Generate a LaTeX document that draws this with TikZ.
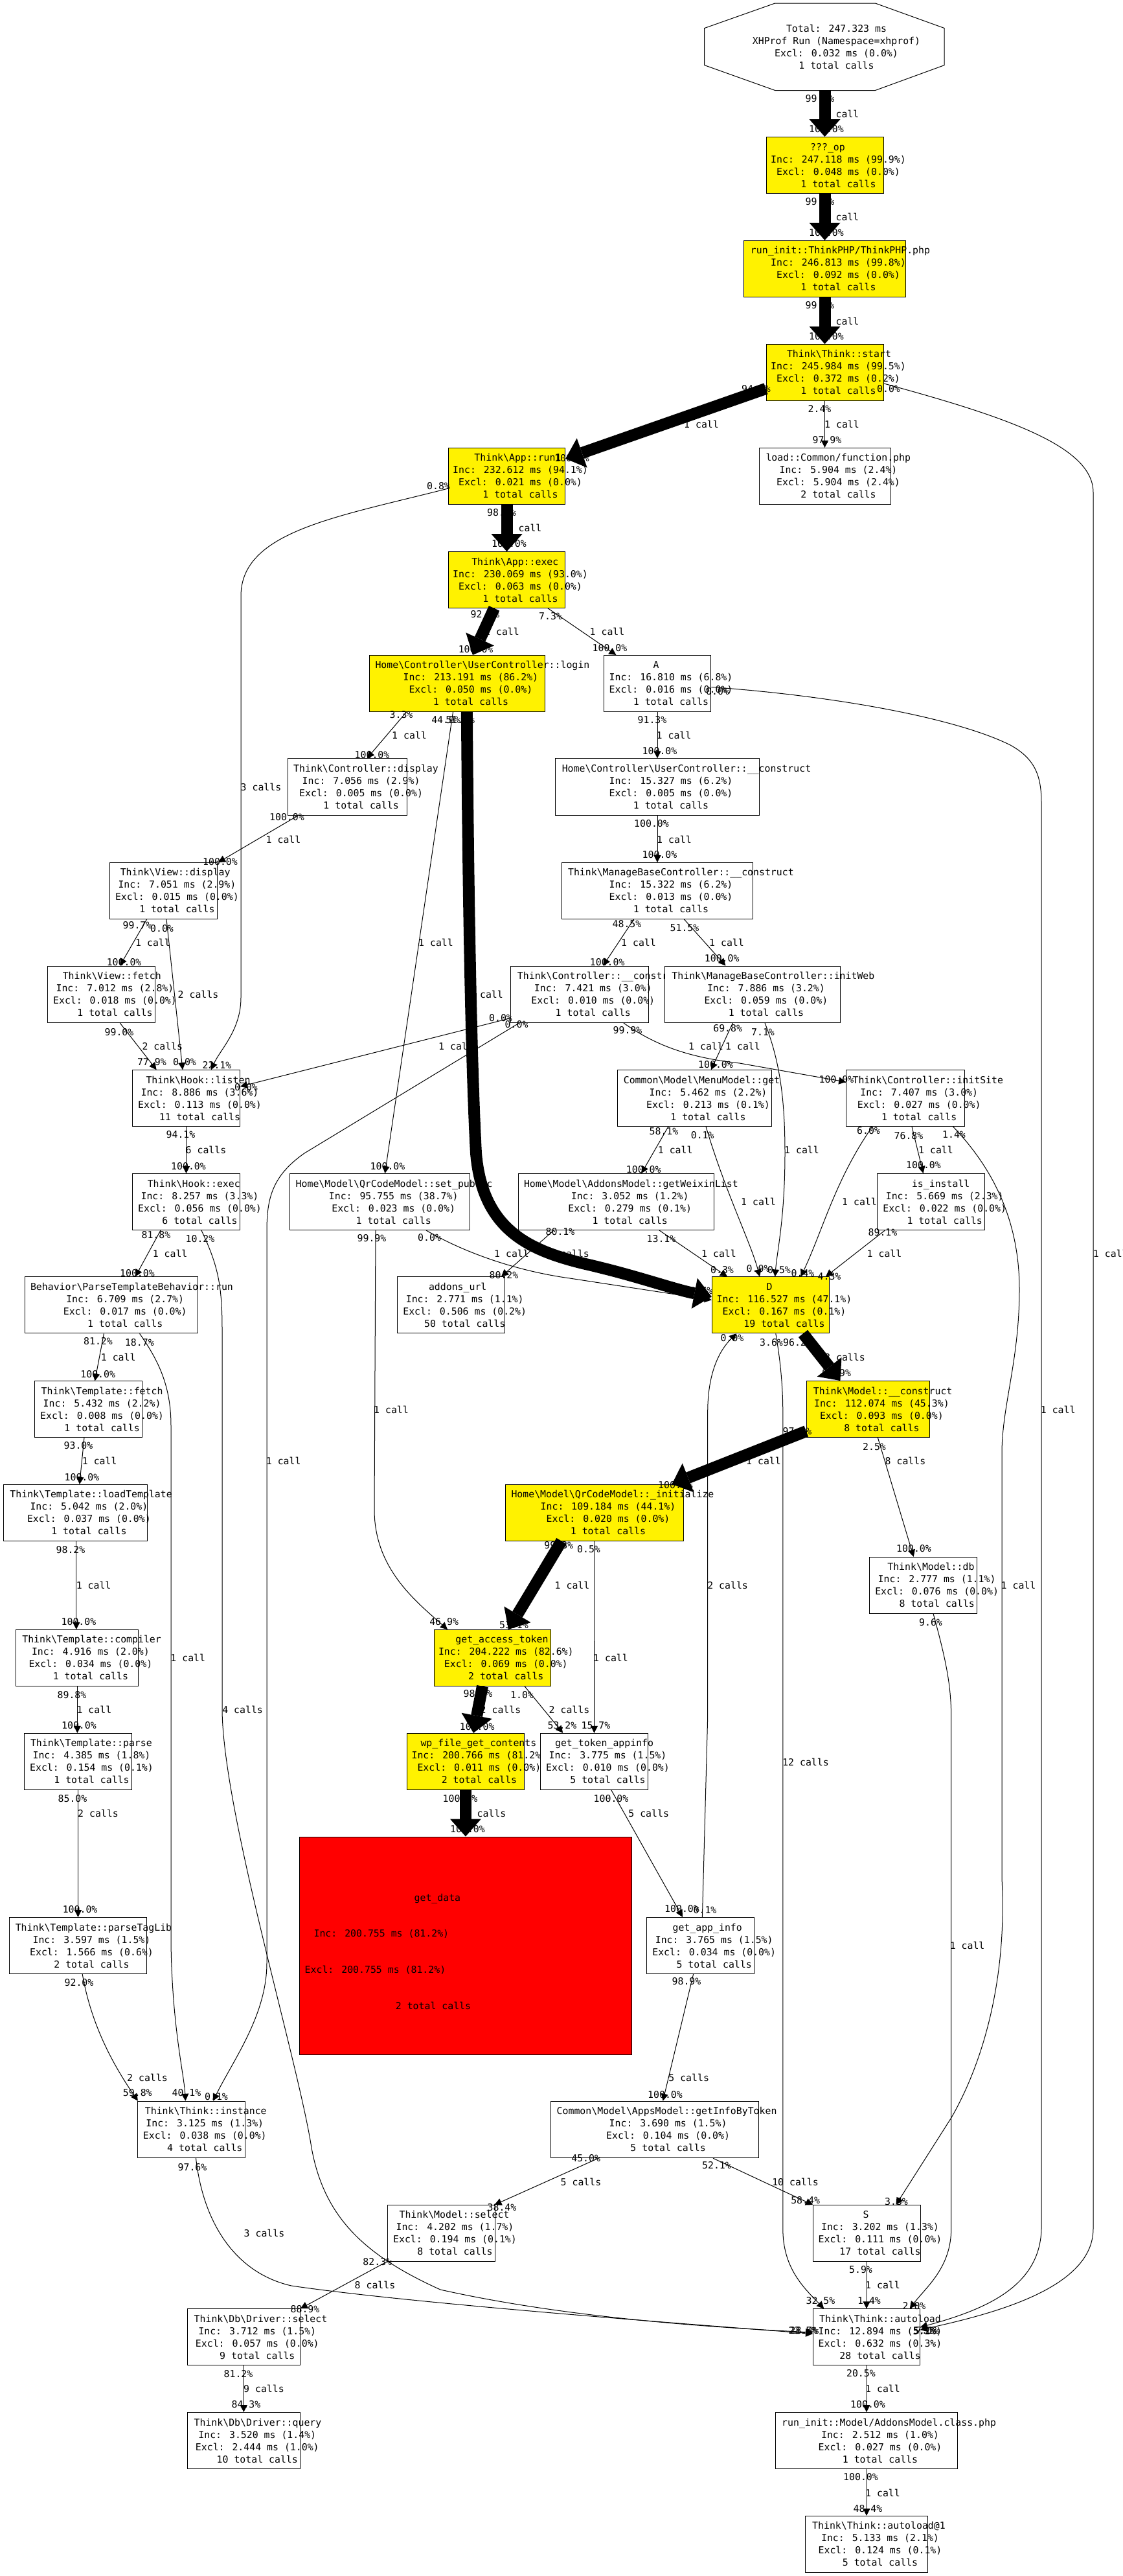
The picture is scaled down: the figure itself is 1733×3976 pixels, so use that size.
\documentclass[tikz,border=0pt]{standalone}
\usepackage{fontspec}
\newfontfamily\monof{DejaVu Sans Mono}
\usetikzlibrary{arrows.meta}
\newcommand\mymono{\monof\fontsize{14.85}{19}\selectfont}
\def\bsl{\textbackslash}
\newcommand\mkfn[9]{\node[box, fill=#6, minimum width=#4pt, minimum height=#5pt,
  label={[ttl,xshift=#7pt]center:{#8}}, label={[bdy]center:{#9}}] (#1) at (#2,#3) {};}
\newcommand\elb[4]{\node[elab] (#1) at (#2,#3) {#4};}
\begin{document}
\begin{tikzpicture}[x=1pt,y=-1pt,
  box/.style={draw, line width=1pt, inner sep=0pt},
  ttl/.style={font=\mymono, inner sep=0pt, text height=11pt, text depth=0pt, yshift=28.5pt},
  bdy/.style={font=\mymono, inner sep=0pt, align=center, xshift=21pt, yshift=-9.5pt},
  elab/.style={font=\mymono, inner sep=0pt, text height=11pt, text depth=0pt},
  ar/.style={line width=1pt, -{Triangle[width=11pt,length=11pt]}},
  tk/.style={line width=18pt, -{Triangle[width=48pt,length=27pt,line width=0pt]}}]
\fill[white] (0,0) rectangle (1733,3976);
\useasboundingbox (0,0) rectangle (1733,3976);

% root octagon
\draw[line width=1pt] (1196.7,5) -- (1351.5,5) -- (1458.2,43.5) -- (1458.2,100.6) -- (1351.5,139.5) -- (1196.7,139.5) -- (1087.7,100.6) -- (1087.7,43.5) -- cycle;
\node[draw=none, minimum width=370.5pt, minimum height=134.4pt, inner sep=0pt,
  label={[font=\mymono, inner sep=0pt, align=center, xshift=18pt]center:{Total: 247.323 ms\\XHProf Run (Namespace\symbol{61}xhprof)\\Excl: 0.032 ms (0.0\%)\\1 total calls}}] (root) at (1273.5,72.3) {};

% function nodes
\mkfn{op}{1273.5}{255}{181}{87}{yellow}{4.5}{???\_op}{Inc: 247.118 ms (99.9\%)\\Excl: 0.048 ms (0.0\%)\\1 total calls}
\mkfn{runinit}{1273.5}{414.8}{249.5}{87}{yellow}{24}{run\_init::ThinkPHP/ThinkPHP.php}{Inc: 246.813 ms (99.8\%)\\Excl: 0.092 ms (0.0\%)\\1 total calls}
\mkfn{start}{1273.5}{574.9}{181}{87}{yellow}{22}{Think\bsl Think::start}{Inc: 245.984 ms (99.5\%)\\Excl: 0.372 ms (0.2\%)\\1 total calls}
\mkfn{run1}{782.5}{734.7}{180.3}{86.7}{yellow}{17}{Think\bsl App::run1}{Inc: 232.612 ms (94.1\%)\\Excl: 0.021 ms (0.0\%)\\1 total calls}
\mkfn{loadc}{1273.5}{734.7}{203}{86.7}{white}{20.8}{load::Common/function.php}{Inc: 5.904 ms (2.4\%)\\Excl: 5.904 ms (2.4\%)\\2 total calls}
\mkfn{exec}{782.5}{895}{180.3}{86.7}{yellow}{12.8}{Think\bsl App::exec}{Inc: 230.069 ms (93.0\%)\\Excl: 0.063 ms (0.0\%)\\1 total calls}
\mkfn{login}{705.9}{1054.8}{271.5}{86.7}{yellow}{39}{Home\bsl Controller\bsl UserController::login}{Inc: 213.191 ms (86.2\%)\\Excl: 0.050 ms (0.0\%)\\1 total calls}
\mkfn{A}{1015}{1054.8}{165.8}{86.7}{white}{-2}{A}{Inc: 16.810 ms (6.8\%)\\Excl: 0.016 ms (0.0\%)\\1 total calls}
\mkfn{cdisp}{536.6}{1214.6}{184}{87.5}{white}{28.4}{Think\bsl Controller::display}{Inc: 7.056 ms (2.9\%)\\Excl: 0.005 ms (0.0\%)\\1 total calls}
\mkfn{ucc}{1015}{1214.6}{315}{87.5}{white}{45}{Home\bsl Controller\bsl UserController::\_\_construct}{Inc: 15.327 ms (6.2\%)\\Excl: 0.005 ms (0.0\%)\\1 total calls}
\mkfn{vdisp}{252.4}{1374.9}{166.4}{86.7}{white}{18.3}{Think\bsl View::display}{Inc: 7.051 ms (2.9\%)\\Excl: 0.015 ms (0.0\%)\\1 total calls}
\mkfn{mbc}{1015}{1374.9}{295.8}{86.7}{white}{36.4}{Think\bsl ManageBaseController::\_\_construct}{Inc: 15.322 ms (6.2\%)\\Excl: 0.013 ms (0.0\%)\\1 total calls}
\mkfn{vfetch}{156.5}{1534.7}{166}{87.4}{white}{16.3}{Think\bsl View::fetch}{Inc: 7.012 ms (2.8\%)\\Excl: 0.018 ms (0.0\%)\\1 total calls}
\mkfn{ccons}{894.8}{1534.7}{213.5}{87.4}{white}{33.8}{Think\bsl Controller::\_\_construct}{Inc: 7.421 ms (3.0\%)\\Excl: 0.010 ms (0.0\%)\\1 total calls}
\mkfn{initweb}{1161.9}{1534.7}{271}{87.4}{white}{32}{Think\bsl ManageBaseController::initWeb}{Inc: 7.886 ms (3.2\%)\\Excl: 0.059 ms (0.0\%)\\1 total calls}
\mkfn{listen}{287.5}{1695}{166}{86.7}{white}{18.5}{Think\bsl Hook::listen}{Inc: 8.886 ms (3.6\%)\\Excl: 0.113 ms (0.0\%)\\11 total calls}
\mkfn{menu}{1072.5}{1695}{238.3}{86.7}{white}{11}{Common\bsl Model\bsl MenuModel::get}{Inc: 5.462 ms (2.2\%)\\Excl: 0.213 ms (0.1\%)\\1 total calls}
\mkfn{initsite}{1398.2}{1695}{183}{86.7}{white}{34.6}{Think\bsl Controller::initSite}{Inc: 7.407 ms (3.0\%)\\Excl: 0.027 ms (0.0\%)\\1 total calls}
\mkfn{hexec}{287.5}{1855}{166}{87}{white}{11.8}{Think\bsl Hook::exec}{Inc: 8.257 ms (3.3\%)\\Excl: 0.056 ms (0.0\%)\\6 total calls}
\mkfn{setpub}{586.7}{1855}{277.5}{87}{white}{22}{Home\bsl Model\bsl QrCodeModel::set\_public}{Inc: 95.755 ms (38.7\%)\\Excl: 0.023 ms (0.0\%)\\1 total calls}
\mkfn{getwx}{951.7}{1855}{302}{87}{white}{22.7}{Home\bsl Model\bsl AddonsModel::getWeixinList}{Inc: 3.052 ms (1.2\%)\\Excl: 0.279 ms (0.1\%)\\1 total calls}
\mkfn{isinst}{1437.7}{1855}{166}{87}{white}{15}{is\_install}{Inc: 5.669 ms (2.3\%)\\Excl: 0.022 ms (0.0\%)\\1 total calls}
\mkfn{ptb}{172.2}{2014.4}{267}{87}{white}{31.3}{Behavior\bsl ParseTemplateBehavior::run}{Inc: 6.709 ms (2.7\%)\\Excl: 0.017 ms (0.0\%)\\1 total calls}
\mkfn{addons}{696.7}{2014.4}{166}{87}{white}{10}{addons\_url}{Inc: 2.771 ms (1.1\%)\\Excl: 0.506 ms (0.2\%)\\50 total calls}
\mkfn{D}{1190}{2014.4}{181.4}{87}{yellow}{-2}{D}{Inc: 116.527 ms (47.1\%)\\Excl: 0.167 ms (0.1\%)\\19 total calls}
\mkfn{tfetch}{136.6}{2175.2}{166}{86.7}{white}{21}{Think\bsl Template::fetch}{Inc: 5.432 ms (2.2\%)\\Excl: 0.008 ms (0.0\%)\\1 total calls}
\mkfn{mcons}{1340.4}{2175}{190.2}{87}{yellow}{22.7}{Think\bsl Model::\_\_construct}{Inc: 112.074 ms (45.3\%)\\Excl: 0.093 ms (0.0\%)\\8 total calls}
\mkfn{ltpl}{116.4}{2334.7}{221.8}{86.7}{white}{24.2}{Think\bsl Template::loadTemplate}{Inc: 5.042 ms (2.0\%)\\Excl: 0.037 ms (0.0\%)\\1 total calls}
\mkfn{qinit}{918}{2334.7}{275.5}{86.7}{yellow}{28}{Home\bsl Model\bsl QrCodeModel::\_initialize}{Inc: 109.184 ms (44.1\%)\\Excl: 0.020 ms (0.0\%)\\1 total calls}
\mkfn{mdb}{1425.6}{2446.7}{166}{86.6}{white}{11.8}{Think\bsl Model::db}{Inc: 2.777 ms (1.1\%)\\Excl: 0.076 ms (0.0\%)\\8 total calls}
\mkfn{compiler}{118.9}{2558.8}{189}{86.7}{white}{22.7}{Think\bsl Template::compiler}{Inc: 4.916 ms (2.0\%)\\Excl: 0.034 ms (0.0\%)\\1 total calls}
\mkfn{gat}{760.3}{2558.8}{180.2}{86.7}{yellow}{14.7}{get\_access\_token}{Inc: 204.222 ms (82.6\%)\\Excl: 0.069 ms (0.0\%)\\2 total calls}
\mkfn{parse}{120.5}{2718.8}{166}{87}{white}{20.4}{Think\bsl Template::parse}{Inc: 4.385 ms (1.8\%)\\Excl: 0.154 ms (0.1\%)\\1 total calls}
\mkfn{wp}{718.9}{2718.8}{180.3}{87}{yellow}{20}{wp\_file\_get\_contents}{Inc: 200.766 ms (81.2\%)\\Excl: 0.011 ms (0.0\%)\\2 total calls}
\mkfn{gta}{917.5}{2718.8}{166.6}{87}{white}{15.6}{get\_token\_appinfo}{Inc: 3.775 ms (1.5\%)\\Excl: 0.010 ms (0.0\%)\\5 total calls}
\mkfn{ptl}{120.5}{3003}{212.3}{87}{white}{24}{Think\bsl Template::parseTagLib}{Inc: 3.597 ms (1.5\%)\\Excl: 1.566 ms (0.6\%)\\2 total calls}
\mkfn{gai}{1081.7}{3003}{166}{87}{white}{10.5}{get\_app\_info}{Inc: 3.765 ms (1.5\%)\\Excl: 0.034 ms (0.0\%)\\5 total calls}
\mkfn{inst}{295.3}{3286.9}{166}{87.5}{white}{22.5}{Think\bsl Think::instance}{Inc: 3.125 ms (1.3\%)\\Excl: 0.038 ms (0.0\%)\\4 total calls}
\mkfn{gibt}{1010.6}{3286.9}{321}{87.5}{white}{19}{Common\bsl Model\bsl AppsModel::getInfoByToken}{Inc: 3.690 ms (1.5\%)\\Excl: 0.104 ms (0.0\%)\\5 total calls}
\mkfn{msel}{681.5}{3446.8}{166.4}{86.5}{white}{20}{Think\bsl Model::select}{Inc: 4.202 ms (1.7\%)\\Excl: 0.194 ms (0.1\%)\\8 total calls}
\mkfn{S}{1338}{3446.8}{166}{86.5}{white}{-1}{S}{Inc: 3.202 ms (1.3\%)\\Excl: 0.111 ms (0.0\%)\\17 total calls}
\mkfn{dsel}{376.3}{3607}{174.2}{86.5}{white}{26.2}{Think\bsl Db\bsl Driver::select}{Inc: 3.712 ms (1.5\%)\\Excl: 0.057 ms (0.0\%)\\9 total calls}
\mkfn{autoload}{1338}{3607}{164.8}{86.5}{white}{21}{Think\bsl Think::autoload}{Inc: 12.894 ms (5.2\%)\\Excl: 0.632 ms (0.3\%)\\28 total calls}
\mkfn{dquery}{376.3}{3767}{174.2}{87}{white}{21.7}{Think\bsl Db\bsl Driver::query}{Inc: 3.520 ms (1.4\%)\\Excl: 2.444 ms (1.0\%)\\10 total calls}
\mkfn{rinit2}{1338}{3767}{281}{87}{white}{34.6}{run\_init::Model/AddonsModel.class.php}{Inc: 2.512 ms (1.0\%)\\Excl: 0.027 ms (0.0\%)\\1 total calls}
\mkfn{al1}{1338}{3926.8}{188.5}{87}{white}{19}{Think\bsl Think::autoload@1}{Inc: 5.133 ms (2.1\%)\\Excl: 0.124 ms (0.1\%)\\5 total calls}

\node[box, fill=red, minimum width=513.2pt, minimum height=336.2pt] (getdata) at (718.9,3003.1) {};
\node[elab] (gd1) at (675.4,2929) {get\_data};
\node[elab] (gd2) at (588.9,2984.4) {Inc: 200.755 ms (81.2\%)};
\node[elab] (gd3) at (579.5,3040.2) {Excl: 200.755 ms (81.2\%)};
\node[elab] (gd4) at (669,3096.4) {2 total calls};

% edge labels
\elb{e1t}{1266}{152}{99.9\%}\elb{e1m}{1299.6}{175.5}{1 call}\elb{e1h}{1276}{198.7}{100.0\%}
\elb{e2t}{1266}{311}{99.9\%}\elb{e2m}{1299.6}{335.3}{1 call}\elb{e2h}{1276}{359.4}{100.0\%}
\elb{e3t}{1266}{471}{99.7\%}\elb{e3m}{1299.6}{495.6}{1 call}\elb{e3h}{1276}{519}{100.0\%}
\elb{e4t}{1167.5}{600}{94.6\%}\elb{e4m}{1083}{655.4}{1 call}\elb{e4h}{883}{706.6}{100.0\%}
\elb{e5t}{1265.5}{631.3}{2.4\%}\elb{e5m}{1300}{655.4}{1 call}\elb{e5h}{1277}{679}{97.9\%}
\elb{e6t}{1372}{599.6}{0.0\%}\elb{e6m}{1714.8}{1935}{1 call}
\elb{e7t}{774.5}{790.7}{98.9\%}\elb{e7m}{809.6}{815.2}{1 call}\elb{e7h}{786}{839}{100.0\%}
\elb{e8t}{677}{749.7}{0.8\%}\elb{e8m}{403}{1215.2}{3 calls}\elb{e8h}{335}{1644}{22.1\%}
\elb{e9t}{749}{948.4}{92.7\%}\elb{e9m}{775}{975}{1 call}\elb{e9h}{734.6}{1002}{100.0\%}
\elb{e10t}{850}{950.5}{7.3\%}\elb{e10m}{937.5}{975}{1 call}\elb{e10h}{941.5}{1000}{100.0\%}
\elb{e11t}{619.5}{1102.7}{3.3\%}\elb{e11m}{632}{1135.3}{1 call}\elb{e11h}{574.5}{1165.3}{100.0\%}
\elb{e12t}{688.6}{1111.2}{44.9\%}\elb{e12m}{673}{1455.4}{1 call}\elb{e12h}{598.5}{1799.6}{100.0\%}
\elb{e13t}{710.8}{1111.2}{51.8\%}\elb{e13m}{750}{1535.3}{1 call}\elb{e13h}{1078}{1992}{94.7\%}
\elb{e14t}{443}{1260.5}{100.0\%}\elb{e14m}{437.5}{1295.6}{1 call}\elb{e14h}{340}{1330}{100.0\%}
\elb{e15t}{212}{1427.5}{99.7\%}\elb{e15m}{236}{1455.4}{1 call}\elb{e15h}{191.6}{1484.6}{100.0\%}
\elb{e16t}{250}{1432.6}{0.0\%}\elb{e16m}{306}{1535.3}{2 calls}\elb{e16h}{285}{1639.3}{0.0\%}
\elb{e17t}{184}{1593.2}{99.0\%}\elb{e17m}{250.8}{1615.2}{2 calls}\elb{e17h}{234.4}{1639.3}{77.9\%}
\elb{e18t}{773}{1571}{0.0\%}\elb{e18m}{704}{1615}{1 call}\elb{e18h}{380}{1678}{0.0\%}
\elb{e19t}{797.6}{1580.5}{0.0\%}\elb{e19m}{437.7}{2255}{1 call}\elb{e19h}{334}{3235.5}{0.1\%}
\elb{e20t}{279}{1751}{94.1\%}\elb{e20m}{318}{1775}{6 calls}\elb{e20h}{291}{1799.6}{100.0\%}
\elb{e21t}{241}{1906}{81.8\%}\elb{e21m}{262.6}{1935.3}{1 call}\elb{e21h}{212}{1965}{100.0\%}
\elb{e22t}{309}{1912}{10.2\%}\elb{e22m}{374.6}{2639.3}{4 calls}\elb{e22h}{1240}{3596.6}{23.5\%}
\elb{e23t}{151.5}{2069.8}{81.2\%}\elb{e23m}{182.7}{2095}{1 call}\elb{e23h}{151.2}{2121}{100.0\%}
\elb{e24t}{215.4}{2072.3}{18.7\%}\elb{e24m}{290.3}{2559.4}{1 call}\elb{e24h}{288}{3229.6}{40.1\%}
\elb{e25t}{121}{2231.3}{93.0\%}\elb{e25m}{153.7}{2255}{1 call}\elb{e25h}{126.5}{2280}{100.0\%}
\elb{e26t}{109}{2392}{98.2\%}\elb{e26m}{144.6}{2447.4}{1 call}\elb{e26h}{121.5}{2503.2}{100.0\%}
\elb{e27t}{111}{2616}{89.8\%}\elb{e27m}{145.4}{2639.3}{1 call}\elb{e27h}{122}{2662.6}{100.0\%}
\elb{e28t}{112}{2775.5}{85.0\%}\elb{e28m}{151.5}{2799}{2 calls}\elb{e28h}{123.6}{2947.1}{100.0\%}
\elb{e29t}{122}{3060}{92.0\%}\elb{e29m}{227.5}{3207.2}{2 calls}\elb{e29h}{212.3}{3230.4}{59.8\%}
\elb{e30t}{297}{3344.5}{97.6\%}\elb{e30m}{408}{3447.4}{3 calls}\elb{e30h}{1242}{3596.6}{28.4\%}
\elb{e31t}{574}{1911.2}{99.9\%}\elb{e31m}{604}{2175.5}{1 call}\elb{e31h}{685.6}{2502.7}{46.9\%}
\elb{e32t}{663}{1910.4}{0.0\%}\elb{e32m}{878.6}{1935}{2 calls}
\elb{e33t}{865}{1901}{80.1\%}\elb{e33m}{790}{1935.3}{1 call}\elb{e33h}{778}{1968}{80.2\%}
\elb{e34t}{968}{1426.2}{48.5\%}\elb{e34m}{986}{1455}{1 call}\elb{e34h}{937.7}{1485.4}{100.0\%}
\elb{e35t}{1057}{1431.7}{51.5\%}\elb{e35m}{1122}{1455}{1 call}\elb{e35h}{1114.7}{1479}{100.0\%}
\elb{e36t}{969}{1590.3}{99.9\%}\elb{e36m}{1090}{1615}{1 call}\elb{e36h}{1291.5}{1665.5}{100.0\%}
\elb{e37t}{1123.7}{1587}{69.8\%}\elb{e37m}{1147}{1615}{1 call}\elb{e37h}{1105}{1643}{100.0\%}
\elb{e38t}{1178}{1593}{7.1\%}\elb{e38m}{1238}{1775}{1 call}\elb{e38h}{1203}{1960}{0.5\%}
\elb{e39t}{1025}{1745.9}{58.1\%}\elb{e39m}{1042.7}{1775}{1 call}\elb{e39h}{993.7}{1805}{100.0\%}
\elb{e40t}{1084.7}{1751.8}{0.1\%}\elb{e40m}{1171}{1855}{1 call}\elb{e40h}{1170.6}{1958}{0.0\%}
\elb{e41t}{1341}{1745}{6.0\%}\elb{e41m}{1327}{1855}{1 call}\elb{e41h}{1239.5}{1964.5}{0.4\%}
\elb{e42t}{1403}{1753}{76.8\%}\elb{e42m}{1445}{1775}{1 call}\elb{e42h}{1426}{1798.3}{100.0\%}
\elb{e43t}{1473}{1751}{1.4\%}\elb{e43m}{1572.5}{2447.4}{1 call}\elb{e43h}{1384}{3398}{3.3\%}
\elb{e44t}{1021}{1911.6}{13.1\%}\elb{e44m}{1110}{1935.3}{1 call}\elb{e44h}{1115}{1960}{0.3\%}
\elb{e45t}{1363}{1901.9}{89.1\%}\elb{e45m}{1365.5}{1935.3}{1 call}\elb{e45h}{1280.5}{1970}{4.3\%}
\elb{e46t}{1088.5}{2948}{0.1\%}\elb{e46m}{1123.6}{2447.4}{2 calls}\elb{e46h}{1130.5}{2065}{0.0\%}
\elb{e47t}{1191}{2072.3}{3.6\%}\elb{e47m}{1244}{2719.7}{12 calls}\elb{e47h}{1267}{3551}{32.5\%}
\elb{e48t}{1231.5}{2072.3}{96.2\%}\elb{e48m}{1304.5}{2095}{8 calls}\elb{e48h}{1291.7}{2118.8}{99.9\%}
\elb{e49t}{1231}{2209.3}{97.4\%}\elb{e49m}{1179}{2255.4}{1 call}\elb{e49h}{1043}{2291.7}{100.0\%}
\elb{e50t}{1350}{2233}{2.5\%}\elb{e50m}{1398}{2255.4}{8 calls}\elb{e50h}{1411}{2389.8}{100.0\%}
\elb{e51t}{862.8}{2385}{99.3\%}\elb{e51m}{883.5}{2447.4}{1 call}\elb{e51h}{793.5}{2508}{53.1\%}
\elb{e52t}{909}{2390.7}{0.5\%}\elb{e52m}{943}{2559.4}{1 call}\elb{e52h}{920}{2662.6}{15.7\%}
\elb{e53t}{738}{2614}{98.9\%}\elb{e53m}{773}{2639}{2 calls}\elb{e53h}{736.7}{2664.7}{100.0\%}
\elb{e54t}{806}{2616}{1.0\%}\elb{e54m}{879}{2639.3}{2 calls}\elb{e54h}{868}{2662.6}{53.2\%}
\elb{e55t}{710.5}{2775.5}{100.0\%}\elb{e55m}{750}{2799}{2 calls}\elb{e55h}{722}{2823.2}{100.0\%}
\elb{e56t}{943.5}{2776}{100.0\%}\elb{e56m}{1001.7}{2799}{5 calls}\elb{e56h}{1053}{2945.9}{100.0\%}
\elb{e57t}{1060}{3058}{98.9\%}\elb{e57m}{1063.7}{3207.2}{5 calls}\elb{e57h}{1027}{3233.4}{100.0\%}
\elb{e58t}{904.7}{3331}{45.0\%}\elb{e58m}{897}{3367.7}{5 calls}\elb{e58h}{775}{3407}{38.4\%}
\elb{e59t}{1106.5}{3342.4}{52.1\%}\elb{e59m}{1228}{3367.7}{10 calls}\elb{e59h}{1243.6}{3396.4}{58.4\%}
\elb{e60t}{582.8}{3491.2}{82.3\%}\elb{e60m}{579}{3527}{8 calls}\elb{e60h}{471}{3563.7}{88.9\%}
\elb{e61t}{368}{3663.7}{81.2\%}\elb{e61m}{407.5}{3687.3}{9 calls}\elb{e61h}{380}{3711.3}{84.3\%}
\elb{e62t}{1329}{3503.4}{5.9\%}\elb{e62m}{1363}{3527}{1 call}\elb{e62h}{1342}{3551}{1.4\%}
\elb{e63t}{1437}{2504}{9.6\%}\elb{e63m}{1493.6}{3003}{1 call}\elb{e63h}{1411.5}{3558.7}{2.0\%}
\elb{e64t}{1108}{1066.8}{0.0\%}\elb{e64m}{1633.7}{2175.5}{1 call}\elb{e64h}{1428}{3596.6}{5.1\%}
\elb{e6h}{1432}{3596.6}{7.1\%}
\elb{e65t}{1329.4}{3663.2}{20.5\%}\elb{e65m}{1363}{3687.3}{1 call}\elb{e65h}{1340}{3711.3}{100.0\%}
\elb{e66t}{1329}{3823}{100.0\%}\elb{e66m}{1363}{3847.5}{1 call}\elb{e66h}{1340}{3871.5}{48.4\%}
\elb{e67t}{1006}{1271}{100.0\%}\elb{e67m}{1041}{1295.6}{1 call}\elb{e67h}{1018.5}{1319}{100.0\%}
\elb{e68t}{1007}{1111}{91.3\%}\elb{e68m}{1040.5}{1135}{1 call}\elb{e68h}{1018.5}{1159}{100.0\%}

% edges
\draw[tk] (root.south) -- (op.north);
\draw[tk] (op.south) -- (runinit.north);
\draw[tk] (runinit.south) -- (start.north);
\draw[tk] ([yshift=-25pt]start.west) -- ([yshift=26.7pt]run1.east);
\draw[ar] (start.south) -- (loadc.north);
\draw[ar] ([yshift=-17pt]start.east) .. controls (1560,645) and (1688,690) .. (1688,760) -- (1688,3440) .. controls (1688,3530) and (1540,3570) .. ([yshift=11pt]autoload.east);
\draw[tk] (run1.south) -- (exec.north);
\draw[ar] ([yshift=-19.3pt]run1.west) .. controls (520,798) and (372,820) .. (372,920) -- (372,1540) .. controls (372,1590) and (340,1620) .. ([xshift=38.5pt]listen.north);
\draw[tk] ([xshift=-19.5pt]exec.south) -- ([xshift=24pt]login.north);
\draw[ar] ([xshift=63.5pt]exec.south) -- ([xshift=-63.6pt]A.north);
\draw[ar] ([xshift=-78pt]login.south) -- ([xshift=30.2pt]cdisp.north);
\draw[ar] ([xshift=-6.4pt]login.south) -- ([xshift=7.7pt]setpub.north);
\draw[tk] ([xshift=15pt]login.south) .. controls (723,1400) and (728,1650) .. (735,1780) .. controls (745,1900) and (820,1930) .. (900,1950) .. controls (980,1968) and (1040,1990) .. ([yshift=13pt]D.west);
\draw[ar] ([xshift=-76.6pt]cdisp.south) -- ([xshift=84.6pt]vdisp.north);
\draw[ar] ([xshift=-25.7pt]vdisp.south) -- ([xshift=28.7pt]vfetch.north);
\draw[ar] ([xshift=4.6pt]vdisp.south) -- ([xshift=-5.5pt]listen.north);
\draw[ar] ([xshift=28.7pt]vfetch.south) -- ([xshift=-45.9pt]listen.north);
\draw[ar] ([yshift=-37pt]ccons.west) -- ([yshift=18pt]listen.east);
\draw[ar] ([xshift=-93pt]ccons.south) -- (470,1780) .. controls (420,1815) and (412,1850) .. (412,1900) -- (412,3030) .. controls (412,3110) and (360,3180) .. ([xshift=33.7pt]inst.north);
\draw[ar] (listen.south) -- (hexec.north);
\draw[ar] ([xshift=-39.5pt]hexec.south) -- ([xshift=36.8pt]ptb.north);
\draw[ar] ([xshift=23.5pt]hexec.south) .. controls (335,1950) and (343,1980) .. (343,2050) -- (343,2640) .. controls (345,2800) and (460,3180) .. (481,3315) .. controls (500,3420) and (560,3480) .. (680,3534) .. controls (850,3572) and (1050,3590) .. ([yshift=7pt]autoload.west);
\draw[ar] ([xshift=-11.8pt]ptb.south) -- ([xshift=9.9pt]tfetch.north);
\draw[ar] ([xshift=43.4pt]ptb.south) .. controls (245,2100) and (264,2140) .. (264,2200) -- (264,3000) .. controls (266,3130) and (284,3200) .. ([xshift=-8.9pt]inst.north);
\draw[ar] ([xshift=-6.6pt]tfetch.south) -- ([xshift=6.4pt]ltpl.north);
\draw[ar] ([xshift=1.4pt]ltpl.south) -- ([xshift=-1.1pt]compiler.north);
\draw[ar] ([xshift=0.5pt]compiler.south) -- ([xshift=-1.1pt]parse.north);
\draw[ar] (parse.south) -- (ptl.north);
\draw[ar] ([xshift=6.7pt]ptl.south) .. controls (140,3120) and (170,3180) .. ([xshift=-82.4pt]inst.north);
\draw[ar] ([xshift=7.2pt]inst.south) .. controls (315,3440) and (370,3510) .. (450,3528) .. controls (600,3550) and (900,3575) .. ([yshift=5pt]autoload.west);
\draw[ar] ([xshift=-6.7pt]setpub.south) -- (578,2330) .. controls (578,2420) and (640,2470) .. ([xshift=-69.3pt]gat.north);
\draw[ar] ([xshift=71.3pt]setpub.south) .. controls (720,1935) and (800,1962) .. (880,1973) -- ([yshift=8pt]D.west);
\draw[ar] ([xshift=-96.7pt]getwx.south) -- ([xshift=77.3pt]addons.north);
\draw[ar] ([xshift=-36.2pt]mbc.south) -- ([xshift=36.4pt]ccons.north);
\draw[ar] ([xshift=41.2pt]mbc.south) -- ([xshift=-41.5pt]initweb.north);
\draw[ar] ([xshift=68pt]ccons.south) .. controls (1010,1612) and (1060,1632) .. (1142,1641) -- ([yshift=25pt]initsite.west);
\draw[ar] ([xshift=-30.5pt]initweb.south) -- ([xshift=25.5pt]menu.north);
\draw[ar] ([xshift=19.1pt]initweb.south) .. controls (1205,1640) and (1212,1700) .. (1212,1780) .. controls (1212,1880) and (1200,1930) .. ([xshift=6.7pt]D.north);
\draw[ar] ([xshift=-40.6pt]menu.south) -- ([xshift=38.7pt]getwx.north);
\draw[ar] ([xshift=17.5pt]menu.south) .. controls (1120,1840) and (1160,1920) .. ([xshift=-17pt]D.north);
\draw[ar] ([xshift=-51.2pt]initsite.south) .. controls (1290,1820) and (1270,1900) .. ([xshift=46.5pt]D.north);
\draw[ar] ([xshift=9.8pt]initsite.south) -- ([xshift=-12.1pt]isinst.north);
\draw[ar] ([xshift=73.3pt]initsite.south) .. controls (1530,1800) and (1574,1880) .. (1574,1990) .. controls (1574,2100) and (1547,2170) .. (1547,2243) -- (1547,2900) .. controls (1555,3050) and (1520,3180) .. (1468.7,3269) -- ([xshift=45.4pt]S.north);
\draw[ar] ([xshift=66.3pt]getwx.south) -- ([xshift=-67pt]D.north);
\draw[ar] ([xshift=-71.3pt]isinst.south) -- ([xshift=85pt]D.north);
\draw[ar] ([xshift=2.7pt]gai.north) -- (1092.7,2650) -- (1092.7,2180) .. controls (1092.7,2120) and (1110,2085) .. ([xshift=-53pt]D.south);
\draw[ar] ([xshift=7.8pt]D.south) .. controls (1205,2100) and (1208.8,2140) .. (1208.8,2180) -- (1208.8,3440) .. controls (1208.8,3500) and (1240,3530) .. ([xshift=-65.8pt]autoload.north);
\draw[tk] ([xshift=50pt]D.south) -- ([xshift=-43pt]mcons.north);
\draw[tk] ([yshift=-34pt]mcons.west) -- ([xshift=119.4pt]qinit.north);
\draw[ar] ([xshift=15pt]mcons.south) -- ([xshift=-14.9pt]mdb.north);
\draw[tk] ([xshift=-51pt]qinit.south) -- ([xshift=24.7pt]gat.north);
\draw[ar] (qinit.south) -- (gta.north);
\draw[tk] ([xshift=-15.3pt]gat.south) -- ([xshift=12.1pt]wp.north);
\draw[ar] ([xshift=49.7pt]gat.south) -- ([xshift=-48.3pt]gta.north);
\draw[tk] (wp.south) -- (getdata.north);
\draw[ar] ([xshift=26.3pt]gta.south) -- ([xshift=-27.7pt]gai.north);
\draw[ar] ([xshift=-11.1pt]gai.south) -- ([xshift=13pt]gibt.north);
\draw[ar] ([xshift=-86.6pt]gibt.south) -- ([xshift=82pt]msel.north);
\draw[ar] ([xshift=90.4pt]gibt.south) -- ([xshift=-83pt]S.north);
\draw[ar] (msel.south west) -- (dsel.north east);
\draw[ar] (dsel.south) -- (dquery.north);
\draw[ar] (S.south) -- (autoload.north);
\draw[ar] ([xshift=15.4pt]mdb.south) .. controls (1460,2560) and (1468.7,2600) .. (1468.7,2650) -- (1468.7,3440) .. controls (1468.7,3500) and (1430,3530) .. ([xshift=66.8pt]autoload.north);
\draw[ar] ([yshift=-5.7pt]A.east) .. controls (1300,1075) and (1480,1110) .. (1560,1150) .. controls (1600,1172) and (1608,1200) .. (1608,1240) -- (1608,3440) .. controls (1606,3530) and (1520,3565) .. ([yshift=15pt]autoload.east);
\draw[ar] (autoload.south) -- (rinit2.north);
\draw[ar] (rinit2.south) -- (al1.north);
\draw[ar] (ucc.south) -- (mbc.north);
\draw[ar] (A.south) -- (ucc.north);
\end{tikzpicture}
\end{document}
